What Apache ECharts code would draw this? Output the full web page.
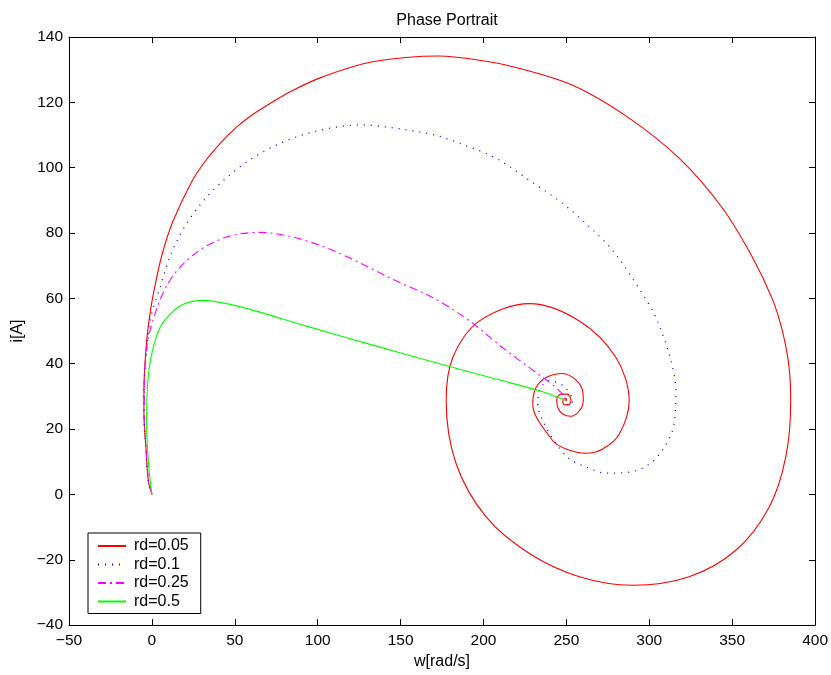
<!DOCTYPE html>
<html>
<head>
<meta charset="utf-8">
<script src="https://cdn.jsdelivr.net/npm/echarts@6/dist/echarts.min.js"></script>
<style>
html,body{margin:0;padding:0;background:#fff;}
#chart{width:831px;height:675px;}
</style>
</head>
<body>
<div id="chart"></div>
<script>
// ---- axis settings / tick labels ----
const xMin = -50, xMax = 400, xStep = 50;
const yMin = -40, yMax = 140, yStep = 20;
const seriesNames = ['rd=0.05', 'rd=0.1', 'rd=0.25', 'rd=0.5'];

// ---- series data: [w (rad/s), i (A)] ----
const rd005 = [
  [0,0],[-2.2,4.3],[-3.6,14.4],[-4.8,24.6],[-4.8,31.7],[-4.2,39.9],[-3,47.9],[-1.2,55.1],
  [1.2,62.2],[6,73.2],[12.7,83.6],[24.1,95.8],[32.5,102.2],[41.6,107.7],[51.2,112.5],
  [60.8,116.3],[71.7,119.8],[83.1,123.2],[103,127.8],
  [133.1,132.4],[173.5,134.2],[197.6,132.9],[217.7,130.9],[253.8,125.2],[288,115.1],[318,102.9],
  [344.2,87.6],[362.2,72.6],[374.3,59.7],[380.3,50],[384.2,39.5],[385.3,28.7],[382.3,11.4],
  [372.3,-3.9],[352.2,-17.1],[324,-25.2],[290,-27.8],[257.8,-25.2],[227.7,-18.1],[201.6,-6.9],
  [183.5,9.4],[177.5,28.7],[181.5,41.9],[197.6,53.1],[227.7,58.4],[257.8,53.1],[279.9,41.9],
  [287.9,28.7],[281.9,18.5],[271.9,13.9],[261.9,12.6],[249.8,13.9],[241.7,16.5],[229.7,27.7],
  [231.7,32.7],[237.8,35.8],
  [247.8,37],[255.8,35],[259.8,31.7],[260.2,28.7],[257.8,25.6],[252.8,23.9],[247.8,24.6],
  [244.8,26.6],[244.2,29.2],[246.8,30.7],[250.4,30.7],[252.8,28.9],[251.4,27.4],[248.8,27.4],
  [247.8,28.5],[249.2,29.5],[250.2,29],[249.4,28.7]
];
const rd01 = [
  [0,0],[-2.2,4.3],[-3.6,14.4],[-4.8,24.6],[-4.8,31.7],[-4,40],[-2.5,48],[-0.3,55],
  [4.8,63.1],[11.5,73.6],[20.2,82.3],[30.8,89.7],[43.4,96.2],[57.6,101.9],[73.3,106.5],
  [90,109.9],[107.5,112.1],[125.5,113.1],[145.4,112.2],[170.5,110],[187.5,107.1],[207.6,102.9],
  [227.7,96.1],[247.6,89.1],[267.9,80],[279.9,73.4],[298,59.7],[304,54.1],[312,42.9],
  [316,31.7],[315,21.6],[309,14.4],[300,9.3],[288,6.8],[273.9,6.5],[261.9,8.4],[251.8,10.9],
  [243.8,15.5],[236.7,21.6],[232.7,27.7],[234.7,32.7],[239.8,34.8],[245.8,33.9],[249.8,32.5],
  [253.8,28.7],[251.8,27.1],[249.4,28.7]
];
const rd025 = [
  [0,0],[-2,4.3],[-3.6,14.4],[-4.6,24.6],[-4.6,32],[-4,40],[-2.2,48],[1.8,55.1],
  [5.4,60.1],[10.2,65],[16.9,69.5],[24.7,73.2],[34.9,76.6],[48.8,79.3],[65.1,80.2],
  [83.1,79],[103.2,75.9],[123.3,71.4],[145.4,65.8],[169.5,60.2],[191.6,53.1],[211.6,44.9],
  [227.7,38.8],[239.8,34.3],[247.8,30.7],[249.4,28.9]
];
const rd05 = [
  [0,0],[-2.2,10.4],[-3.2,22.6],[-2.8,31.7],[-1.6,38.8],[0.8,44.9],[4.8,51],[10.8,55.1],
  [18.9,58.2],[30.9,59.4],[45,58.4],[63,56.1],[93.2,51.5],[133.3,45.7],[173.5,40],
  [207.6,35.3],[233.7,31.7],[249.4,28.8]
];

const FONT = 'Liberation Sans, Arial, Helvetica, sans-serif';
const minus = v => String(v).replace('-', '\u2212');

const chart = echarts.init(document.getElementById('chart'), null, {renderer: 'canvas'});

const axisCommon = {
  axisLine: {show: true, onZero: false, lineStyle: {color: '#000', width: 1}},
  axisTick: {show: true, inside: true, length: 6, lineStyle: {color: '#000', width: 1}},
  splitLine: {show: false},
};

function mkSeries(name, data, color, type, width) {
  return {
    name: name, type: 'line', data: data, symbol: 'none', showSymbol: false,
    smooth: 0.33, animation: false, clip: true,
    lineStyle: {color: color, width: width, type: type},
    itemStyle: {color: color}
  };
}

chart.setOption({
  backgroundColor: '#fff',
  animation: false,
  title: {
    text: 'Phase Portrait', left: 442, top: 8, textAlign: 'center',
    textStyle: {fontFamily: FONT, fontSize: 16, fontWeight: 'normal', color: '#000'}
  },
  grid: {left: 69, right: 15, top: 37, bottom: 49, containLabel: false, show: false},
  legend: {
    orient: 'vertical', left: 88, top: 533,
    itemWidth: 28, itemHeight: 14, itemGap: 0.5,
    padding: [4, 12, 3, 9],
    borderColor: '#000', borderWidth: 1, backgroundColor: '#fff',
    itemStyle: {opacity: 0, borderWidth: 0},
    textStyle: {fontFamily: FONT, fontSize: 16, lineHeight: 18, color: '#000', padding: [0, 0, 0, 3]},
    data: seriesNames
  },
  xAxis: [
    Object.assign({
      type: 'value', position: 'bottom', min: xMin, max: xMax, interval: xStep,
      name: 'w[rad/s]', nameLocation: 'middle', nameGap: 25,
      nameTextStyle: {fontFamily: FONT, fontSize: 16, color: '#000'},
      axisLabel: {fontFamily: FONT, fontSize: 15.5, color: '#000', margin: 8, formatter: minus}
    }, axisCommon),
    Object.assign({
      type: 'value', position: 'top', min: xMin, max: xMax, interval: xStep,
      axisLabel: {show: false}
    }, axisCommon)
  ],
  yAxis: [
    Object.assign({
      type: 'value', position: 'left', min: yMin, max: yMax, interval: yStep,
      name: 'i[A]', nameLocation: 'middle', nameGap: 38,
      nameTextStyle: {fontFamily: FONT, fontSize: 16, color: '#000'},
      axisLabel: {fontFamily: FONT, fontSize: 15.5, color: '#000', margin: 6, formatter: minus}
    }, axisCommon),
    Object.assign({
      type: 'value', position: 'right', min: yMin, max: yMax, interval: yStep,
      axisLabel: {show: false}
    }, axisCommon)
  ],
  series: [
    mkSeries(seriesNames[0], rd005, '#ff0000', 'solid', 1.1),
    mkSeries(seriesNames[1], rd01, '#0000ff', [1, 6], 1.3),
    mkSeries(seriesNames[2], rd025, '#ff00ff', [8, 4, 2, 4], 1.1),
    mkSeries(seriesNames[3], rd05, '#00ff00', 'solid', 1.1)
  ]
});
</script>
</body>
</html>
